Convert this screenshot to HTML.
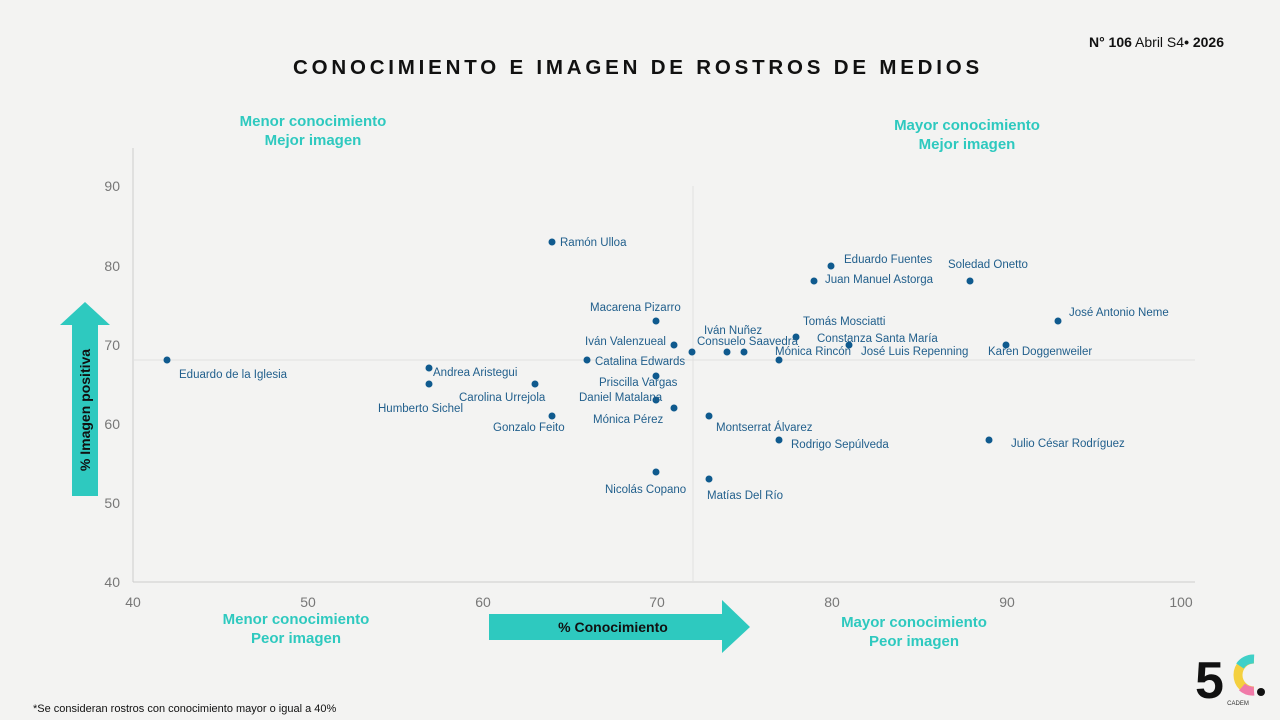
<!DOCTYPE html>
<html><head><meta charset="utf-8"><style>
body{margin:0;width:1280px;height:720px;background:#f3f3f2;overflow:hidden;font-family:"Liberation Sans",sans-serif}
svg{position:absolute;left:0;top:0}
</style></head><body>
<svg width="1280" height="720" viewBox="0 0 1280 720" xmlns="http://www.w3.org/2000/svg" font-family="Liberation Sans, sans-serif">
<rect width="1280" height="720" fill="#f3f3f2"/>
<text x="638" y="74" text-anchor="middle" font-size="20.5" font-weight="bold" letter-spacing="3.8" fill="#111">CONOCIMIENTO E IMAGEN DE ROSTROS DE MEDIOS</text>
<text x="1224" y="47" text-anchor="end" font-size="14" fill="#111"><tspan font-weight="bold">N°  106</tspan> Abril S4<tspan font-weight="bold">• 2026</tspan></text>
<g fill="#2ec9bf" font-weight="bold" font-size="15" text-anchor="middle">
<text x="313" y="126">Menor conocimiento</text><text x="313" y="145">Mejor imagen</text>
<text x="967" y="130">Mayor conocimiento</text><text x="967" y="149">Mejor imagen</text>
<text x="296" y="624">Menor conocimiento</text><text x="296" y="643">Peor imagen</text>
<text x="914" y="627">Mayor conocimiento</text><text x="914" y="646">Peor imagen</text>
</g>
<g stroke="#ccc" stroke-width="1">
<line x1="133" y1="148" x2="133" y2="582"/><line x1="133" y1="582" x2="1195" y2="582"/>
<line x1="693" y1="186" x2="693" y2="582" stroke="#e0e0e0"/><line x1="133" y1="360" x2="1195" y2="360" stroke="#e0e0e0"/>
</g>
<g font-size="14" fill="#777" text-anchor="end">
<text x="120" y="191">90</text><text x="120" y="271">80</text><text x="120" y="350">70</text><text x="120" y="429">60</text><text x="120" y="508">50</text><text x="120" y="587">40</text>
</g>
<g font-size="14" fill="#777" text-anchor="middle">
<text x="133" y="607">40</text><text x="308" y="607">50</text><text x="483" y="607">60</text><text x="657" y="607">70</text><text x="832" y="607">80</text><text x="1007" y="607">90</text><text x="1181" y="607">100</text>
</g>
<polygon points="72,496 98,496 98,325 110,325 85,302 60,325 72,325" fill="#2ec9bf"/>
<text transform="translate(90,410) rotate(-90)" text-anchor="middle" font-size="14" font-weight="bold" fill="#111">% Imagen positiva</text>
<polygon points="489,614 722,614 722,600 750,627 722,653 722,640 489,640" fill="#2ec9bf"/>
<text x="613" y="632" text-anchor="middle" font-size="14" font-weight="bold" fill="#111">% Conocimiento</text>
<g fill="#0f5a8e">
<circle cx="167" cy="360" r="3.5"/><circle cx="429" cy="368" r="3.5"/><circle cx="429" cy="384" r="3.5"/><circle cx="535" cy="384" r="3.5"/><circle cx="552" cy="416" r="3.5"/><circle cx="552" cy="242" r="3.5"/><circle cx="656" cy="321" r="3.5"/><circle cx="674" cy="345" r="3.5"/><circle cx="587" cy="360" r="3.5"/><circle cx="692" cy="352" r="3.5"/><circle cx="727" cy="352" r="3.5"/><circle cx="744" cy="352" r="3.5"/><circle cx="779" cy="360" r="3.5"/><circle cx="796" cy="337" r="3.5"/><circle cx="849" cy="345" r="3.5"/><circle cx="656" cy="376" r="3.5"/><circle cx="656" cy="400" r="3.5"/><circle cx="674" cy="408" r="3.5"/><circle cx="709" cy="416" r="3.5"/><circle cx="779" cy="440" r="3.5"/><circle cx="656" cy="472" r="3.5"/><circle cx="709" cy="479" r="3.5"/><circle cx="831" cy="266" r="3.5"/><circle cx="814" cy="281" r="3.5"/><circle cx="970" cy="281" r="3.5"/><circle cx="1058" cy="321" r="3.5"/><circle cx="1006" cy="345" r="3.5"/><circle cx="989" cy="440" r="3.5"/>
</g>
<g fill="#215f8c" font-size="11.5">
<text x="179" y="378">Eduardo de la Iglesia</text><text x="433" y="376">Andrea Aristegui</text><text x="378" y="412">Humberto Sichel</text><text x="459" y="401">Carolina Urrejola</text><text x="493" y="431">Gonzalo Feito</text><text x="560" y="246">Ramón Ulloa</text><text x="590" y="311">Macarena Pizarro</text><text x="585" y="345">Iván Valenzueal</text><text x="595" y="365">Catalina Edwards</text><text x="704" y="334">Iván Nuñez</text><text x="697" y="345">Consuelo Saavedra</text><text x="775" y="355">Mónica Rincón</text><text x="803" y="325">Tomás Mosciatti</text><text x="817" y="342">Constanza Santa María</text><text x="861" y="355">José Luis Repenning</text><text x="599" y="386">Priscilla Vargas</text><text x="579" y="401">Daniel Matalana</text><text x="593" y="423">Mónica Pérez</text><text x="716" y="431">Montserrat Álvarez</text><text x="791" y="448">Rodrigo Sepúlveda</text><text x="605" y="493">Nicolás Copano</text><text x="707" y="499">Matías Del Río</text><text x="844" y="263">Eduardo Fuentes</text><text x="825" y="283">Juan Manuel Astorga</text><text x="948" y="268">Soledad Onetto</text><text x="1069" y="316">José Antonio Neme</text><text x="988" y="355">Karen Doggenweiler</text><text x="1011" y="447">Julio César Rodríguez</text>
</g>
<text x="33" y="712" font-size="11" fill="#111">*Se consideran rostros con conocimiento mayor o igual a 40%</text>
<text x="1195" y="698" font-size="52" font-weight="bold" fill="#111">5</text>
<path d="M1254,659 A16,16 0 1,0 1254,691" fill="none" stroke="#f4d03f" stroke-width="9"/>
<path d="M1254,659 A16,16 0 0,0 1240,666" fill="none" stroke="#3fd0c8" stroke-width="9"/>
<path d="M1242,687 A16,16 0 0,0 1254,691" fill="none" stroke="#f07aa8" stroke-width="9"/>
<circle cx="1261" cy="692" r="4" fill="#111"/>
<text x="1238" y="705" font-size="6" fill="#333" text-anchor="middle">CADEM</text>
</svg>
</body></html>
